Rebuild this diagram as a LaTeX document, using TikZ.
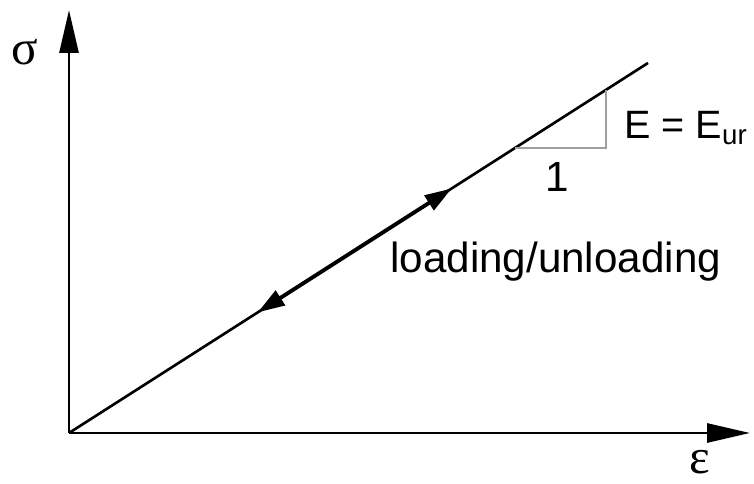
\documentclass[tikz,border=0pt]{standalone}
\usepackage{fontspec}
\setmainfont{Liberation Sans}
\newfontfamily\greekfont{Liberation Serif}
\usetikzlibrary{calc}
\usetikzlibrary{arrows.meta}

\begin{document}
\begin{tikzpicture}
\tikzset{axis/.style={line width=1.6pt,-{Triangle[length=0.86cm,width=0.38cm]}},
         lbl/.style={font=\fontsize{24}{28}\selectfont,inner sep=0pt},
         greek/.style={font=\greekfont\fontsize{28}{30}\selectfont,inner sep=0pt}}
\useasboundingbox (0,0) rectangle (15.08,9.68);

% Ejes
\coordinate (O) at (1.38,1.02);
\coordinate (ytip) at (1.38,9.48);
\coordinate (xtip) at (15.0,1.02);
\coordinate (lend) at (12.96,8.42);
% Puntos sobre la recta
\coordinate (tri_top) at ($ (O)!0.927!(lend) $);
\coordinate (tri_left) at ($ (O)!0.770!(lend) $);
\coordinate (tri_right) at (tri_top |- tri_left);
\coordinate (arr_lo) at ($ (O)!0.326!(lend) $);
\coordinate (arr_up) at ($ (O)!0.661!(lend) $);

\draw[axis] (O) -- (ytip);
\draw[axis] (O) -- (xtip);
\draw[line width=1.5pt] (O) -- (lend);
\draw[gray!75,line width=1pt] (tri_left) -- (tri_right) -- (tri_top);
\draw[line width=2.2pt,{Triangle[length=0.54cm,width=0.34cm]}-{Triangle[length=0.54cm,width=0.34cm]}] (arr_lo) -- (arr_up);

% Textos
\node (sigma) at (0.5,8.64) [greek] {σ};
\node (eps) at (14.0,0.44) [greek] {ε};
\node (modulo) at (12.48,6.9) [lbl,font=\fontsize{22.5}{26}\selectfont,anchor=base west] {E = E\textsubscript{ur}};
\node (uno) at (11.14,6.14) [lbl] {1};
\node (carga) at (7.8,4.22) [lbl,anchor=base west] {loading/unloading};
\end{tikzpicture}
\end{document}
